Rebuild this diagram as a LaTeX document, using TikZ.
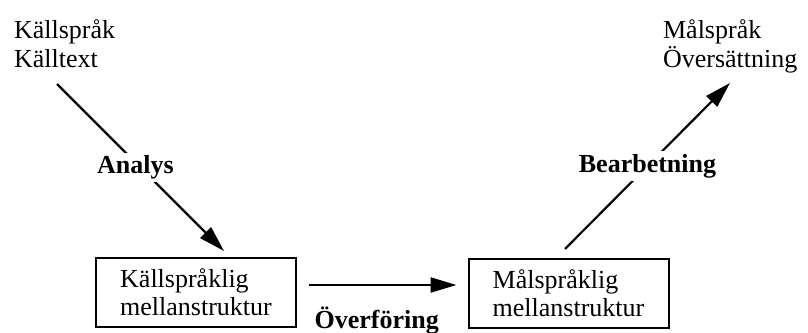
\documentclass[tikz,border=0pt]{standalone}
\usepackage{fontspec}
\setmainfont{Liberation Serif}
\usetikzlibrary{arrows.meta,positioning}
\newcommand{\grundfont}{\fontsize{13}{14}\selectfont}
\tikzset{
  > = {Triangle[length=13pt,width=7.5pt]},
  txt/.style = {align=left, inner sep=0pt, anchor=base west},
  strukt/.style = {draw, line width=1pt, minimum width=100pt, minimum height=34.5pt, align=left},
  steg/.style = {font=\grundfont\bfseries, fill=white, inner sep=1.5pt},
}

\begin{document}
\begin{tikzpicture}[x=0.5pt, y=-0.5pt, font=\grundfont, line width=1.1pt]
  \useasboundingbox (0,0) rectangle (808,332);

  %% source and target texts
  \node[txt] (kalla) at (13,67) {Källspråk\\Källtext};
  \node[txt] (mal) at (662,67) {Målspråk\\Översättning};

  % intermediate structures
  \node[strukt] (kms) at (196,292.5) {Källspråklig\\mellanstruktur};
  \node[strukt] (mms) at (568.5,293.5) {Målspråklig\\mellanstruktur};

  %% define coordinates
  \coordinate (analys_a) at ([shift={(44,17)}]kalla.base west);
  \coordinate (analys_b) at ([shift={(28,-6)}]kms.north);
  \coordinate (overf_a) at ([shift={(12,-7.5)}]kms.east);
  \coordinate (overf_b) at ([shift={(-11,-8.5)}]mms.west);
  \coordinate (bearb_a) at ([shift={(-3.5,-9)}]mms.north);
  \coordinate (bearb_b) at ([shift={(68,16)}]mal.base west);

  % draw analysis, transfer, generation
  \draw[->] (analys_a) -- (analys_b) node[steg, midway, xshift=-2.5pt] {Analys};
  \draw[->] (overf_a) -- (overf_b) node[steg, midway, below=9pt, xshift=-3pt] {Överföring};
  \draw[->] (bearb_a) -- (bearb_b) node[steg, midway] {Bearbetning};
\end{tikzpicture}
\end{document}
